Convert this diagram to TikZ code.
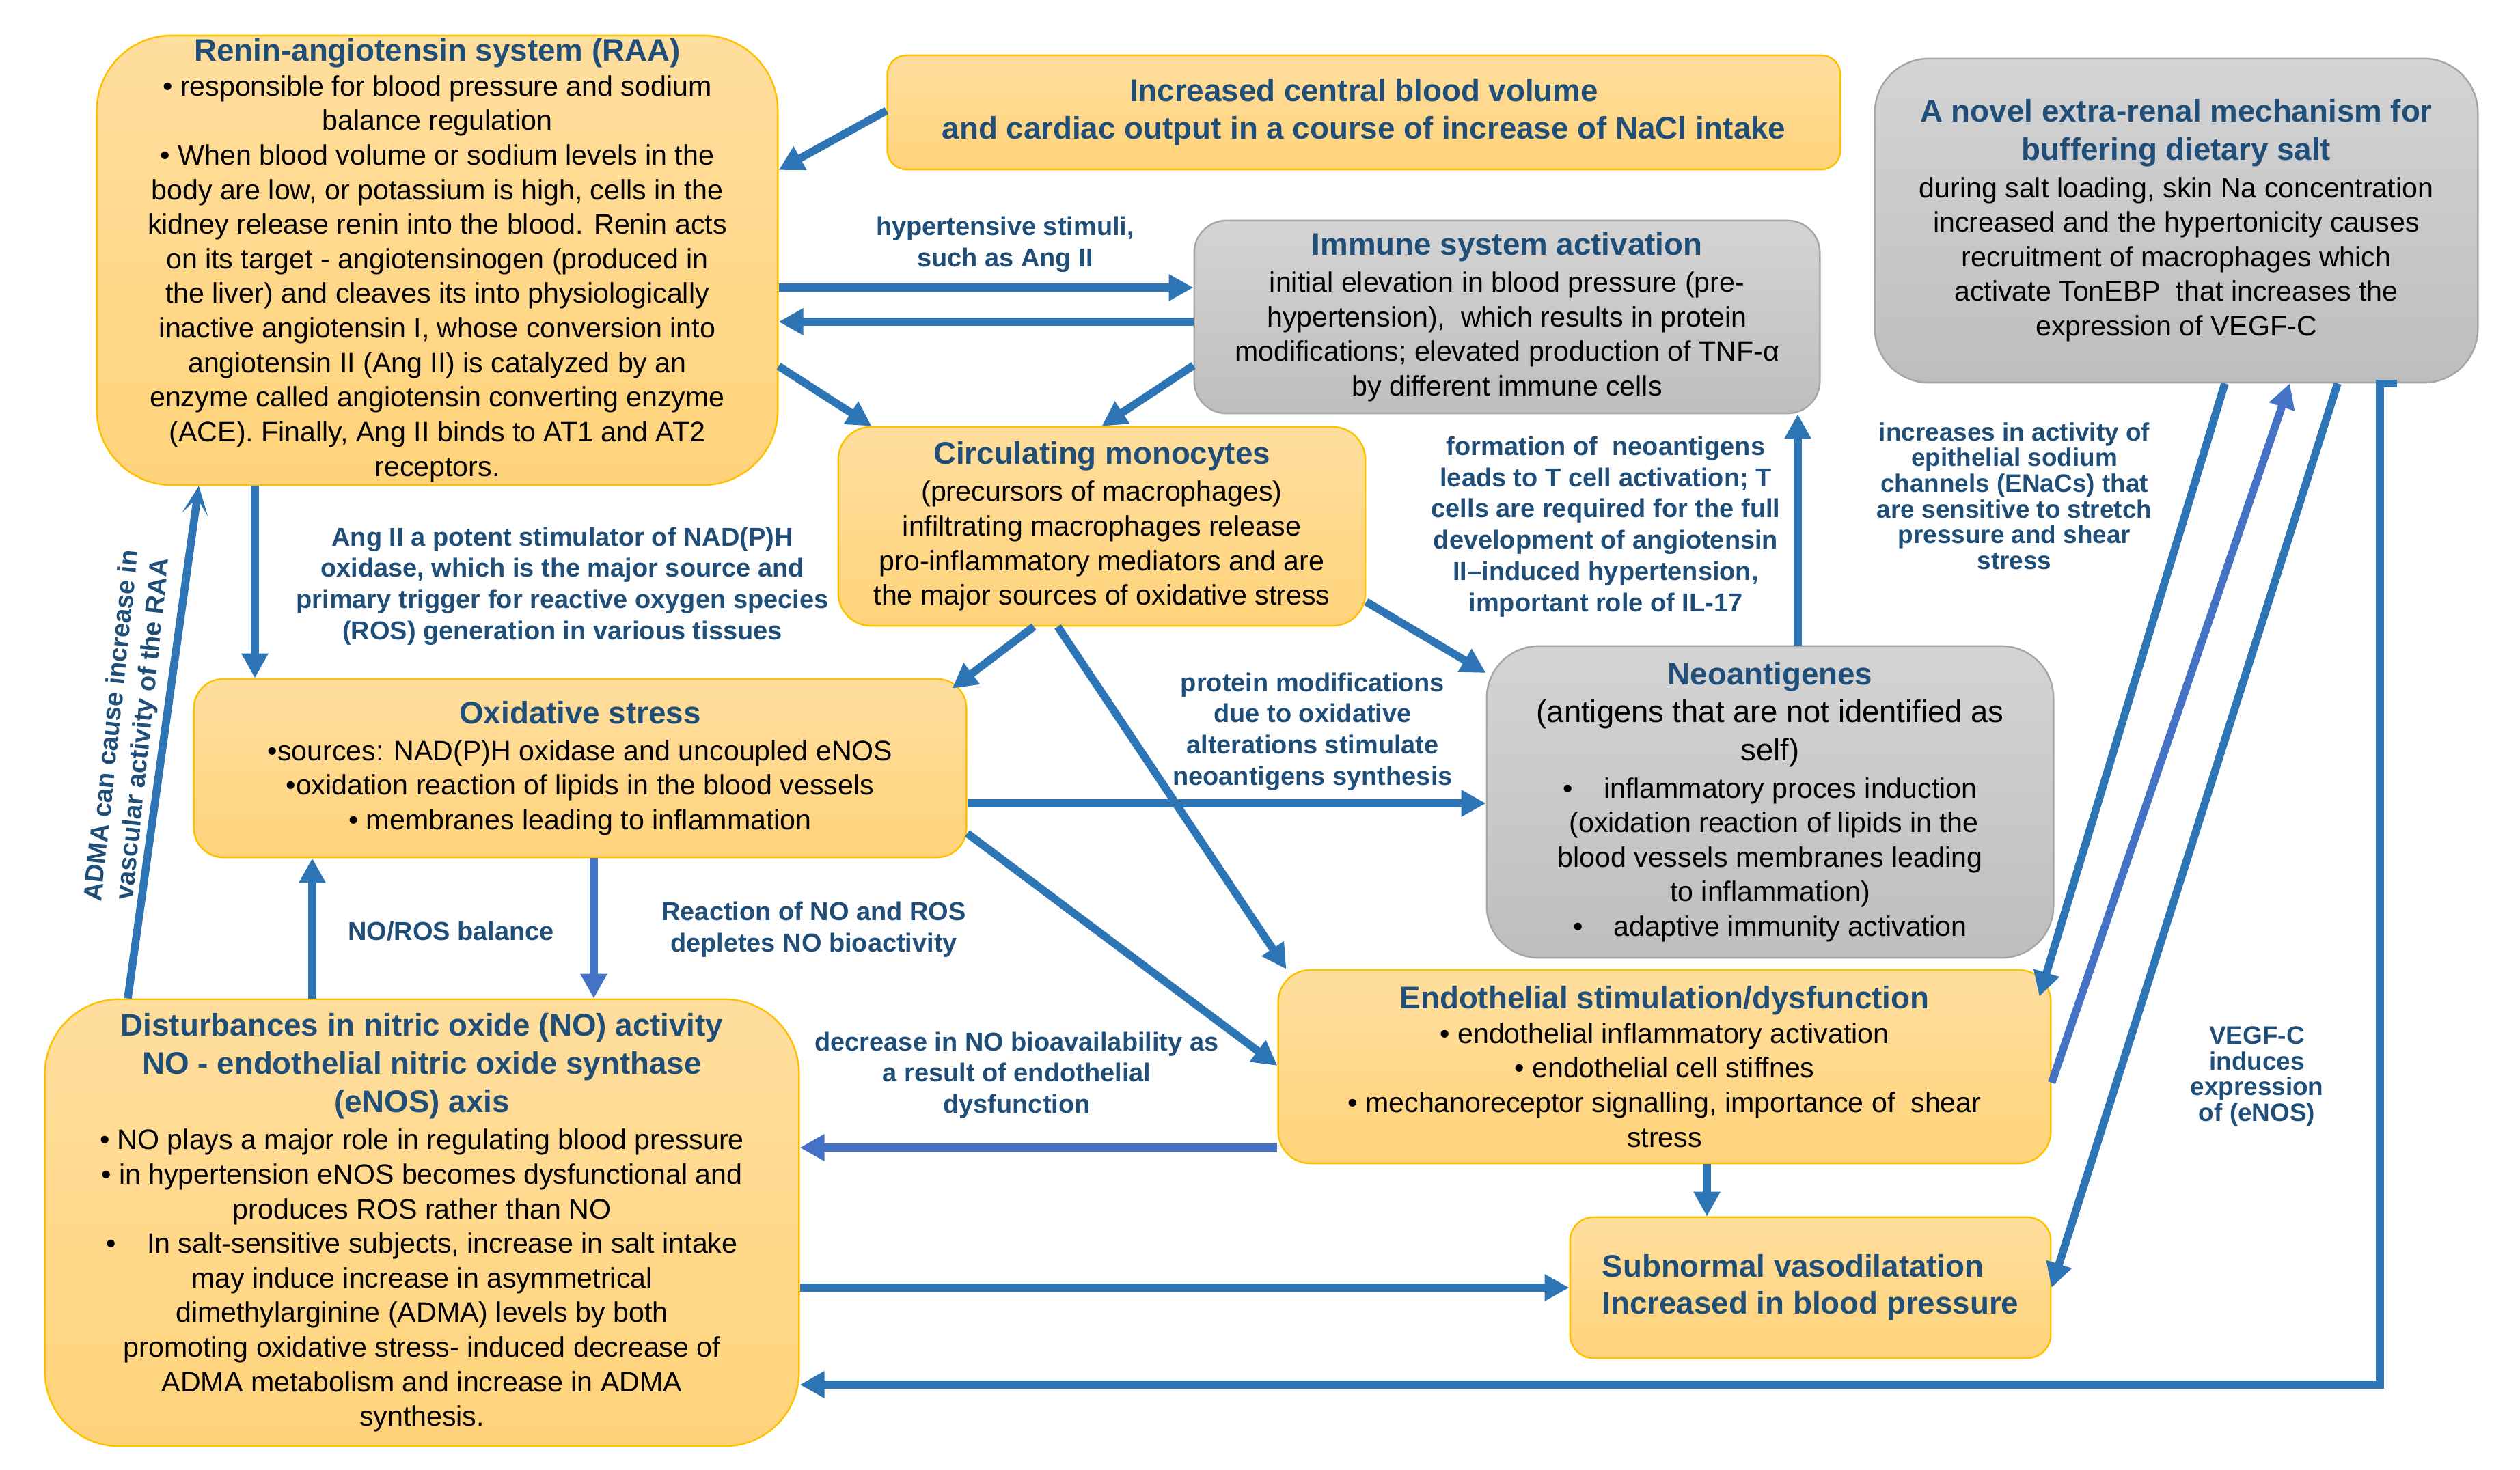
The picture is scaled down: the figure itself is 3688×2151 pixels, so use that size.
\documentclass[tikz,border=0pt]{standalone}
\usepackage{fontspec}
\setmainfont{Liberation Sans}
\usepackage{xcolor}
\usepackage{tikz}
\usetikzlibrary{arrows.meta}

\definecolor{orangetop}{HTML}{FFDE9E}
\definecolor{orangebottom}{HTML}{FFD37A}
\definecolor{orangeedge}{HTML}{FFC000}
\definecolor{graytop}{HTML}{D4D4D4}
\definecolor{graybottom}{HTML}{BEBEBE}
\definecolor{grayedge}{HTML}{A6A6A6}
\definecolor{arrowblue}{HTML}{2E75B6}
\definecolor{lightblue}{HTML}{4472C4}
\definecolor{titleblue}{HTML}{1F4E79}

\begin{document}
\begin{tikzpicture}[x=0.01cm,y=-0.01cm,
  box/.style={line width=0.7pt,align=center,inner sep=0pt,font=\fontsize{11.7}{14.4}\selectfont},
  orangebox/.style={box,draw=orangeedge,top color=orangetop,bottom color=orangebottom},
  graybox/.style={box,draw=grayedge,top color=graytop,bottom color=graybottom},
  lbl/.style={text=titleblue,font=\bfseries\fontsize{10.8}{13}\selectfont,align=center,inner sep=0pt},
  tightlbl/.style={lbl,font=\bfseries\fontsize{10.5}{10.7}\selectfont},
  flow/.style={draw=arrowblue,line width=1.15mm,-{Triangle[length=3.6mm,width=3.7mm]}},
  lightflow/.style={flow,draw=lightblue}]
\newcommand{\boxtitle}[1]{{\color{titleblue}\bfseries\fontsize{13}{15.5}\selectfont #1}}
\useasboundingbox (0,0) rectangle (3688,2151);

  \node[orangebox,minimum width=9.96cm,minimum height=6.58cm,rounded corners=1.1cm] (raa) at (640,381) {\boxtitle{Renin-angiotensin system (RAA)}\\
    • responsible for blood pressure and sodium\\balance regulation\\
    • When blood volume or sodium levels in the\\body are low, or potassium is high, cells in the\\
    kidney release renin into the blood. Renin acts\\on its target - angiotensinogen (produced in\\
    the liver) and cleaves its into physiologically\\inactive angiotensin I, whose conversion into\\
    angiotensin II (Ang II) is catalyzed by an\\enzyme called angiotensin converting enzyme\\
    (ACE). Finally, Ang II binds to AT1 and AT2\\receptors.};
  \node[orangebox,minimum width=13.94cm,minimum height=1.67cm,rounded corners=0.28cm,text=titleblue,font=\bfseries\fontsize{13}{15.6}\selectfont] (volume) at (1996,164.5) {Increased central blood volume\\and cardiac output in a course of increase of NaCl intake};
  \node[graybox,minimum width=9.15cm,minimum height=2.82cm,rounded corners=0.47cm] (immune) at (2205.5,464) {\boxtitle{Immune system activation}\\[1pt]
    initial elevation in blood pressure (pre-\\hypertension), \ which results in protein\\
    modifications; elevated production of TNF-α\\by different immune cells};
  \node[graybox,minimum width=8.82cm,minimum height=4.74cm,rounded corners=0.79cm] (buffer) at (3185,323) {\boxtitle{A novel extra-renal mechanism for}\\[1.5pt]\boxtitle{buffering dietary salt}\\[1pt]
    during salt loading, skin Na concentration\\increased and the hypertonicity causes\\
    recruitment of macrophages which\\activate TonEBP \ that increases the\\expression of VEGF-C};
  \node[orangebox,minimum width=7.71cm,minimum height=2.91cm,rounded corners=0.48cm] (monocytes) at (1612.5,770.5) {\boxtitle{Circulating monocytes}\\[1pt]
    (precursors of macrophages)\\infiltrating macrophages release\\
    pro-inflammatory mediators and are\\the major sources of oxidative stress};
  \node[orangebox,minimum width=11.3cm,minimum height=2.61cm,rounded corners=0.43cm] (oxstress) at (849,1124.5) {\boxtitle{Oxidative stress}\\[1pt]
    •sources: NAD(P)H oxidase and uncoupled eNOS\\•oxidation reaction of lipids in the blood vessels\\
    • membranes leading to inflammation};
  \node[graybox,minimum width=8.29cm,minimum height=4.56cm,rounded corners=0.76cm] (neoag) at (2590.5,1174) {\boxtitle{Neoantigenes}\\[1.5pt]
    {\fontsize{12.9}{15}\selectfont (antigens that are not identified as}\\[1.5pt]{\fontsize{12.9}{15}\selectfont self)}\\[1pt]
    •\hspace{1.1em}inflammatory proces induction\\\ (oxidation reaction of lipids in the\\
    blood vessels membranes leading\\to inflammation)\\
    •\hspace{1.1em}adaptive immunity activation};
  \node[orangebox,minimum width=11.3cm,minimum height=2.83cm,rounded corners=0.47cm] (endo) at (2436,1561.5) {\boxtitle{Endothelial stimulation/dysfunction}\\
    • endothelial inflammatory activation\\• endothelial cell stiffnes\\
    • mechanoreceptor signalling, importance of \ shear\\stress};
  \node[orangebox,minimum width=7.03cm,minimum height=2.06cm,rounded corners=0.34cm,align=left,text=titleblue,font=\bfseries\fontsize{13}{15.3}\selectfont] (vasodil) at (2649.5,1885) {Subnormal vasodilatation\\Increased in blood pressure};
  \node[orangebox,minimum width=11.03cm,minimum height=6.54cm,rounded corners=1.09cm] (nitric) at (617.5,1790) {\boxtitle{Disturbances in nitric oxide (NO) activity}\\[1.5pt]
    \boxtitle{NO - endothelial nitric oxide synthase}\\[1.5pt]\boxtitle{(eNOS) axis}\\[1pt]
    • NO plays a major role in regulating blood pressure\\• in hypertension eNOS becomes dysfunctional and\\
    produces ROS rather than NO\\•\hspace{1.1em}In salt-sensitive subjects, increase in salt intake\\
    may induce increase in asymmetrical\\dimethylarginine (ADMA) levels by both\\
    promoting oxidative stress- induced decrease of\\ADMA metabolism and increase in ADMA\\synthesis.};

  \node[lbl] (stimlbl) at (1471,358) {hypertensive stimuli,\\such as Ang II};
  \node[lbl] (anglbl) at (823,858) {Ang II a potent stimulator of NAD(P)H\\oxidase, which is the major source and\\primary trigger for reactive oxygen species\\(ROS) generation in various tissues};
  \node[lbl] (balancelbl) at (660,1363) {NO/ROS balance};
  \node[lbl] (reactlbl) at (1191,1361) {Reaction of NO and ROS\\depletes NO bioactivity};
  \node[lbl] (protlbl) at (1921,1071) {protein modifications\\due to oxidative\\alterations stimulate\\neoantigens synthesis};
  \node[lbl] (tcelllbl) at (2350,771) {formation of \ neoantigens\\leads to T cell activation; T\\cells are required for the full\\development of angiotensin\\II–induced hypertension,\\important role of IL-17};
  \node[tightlbl] (enaclbl) at (2948,726) {increases in activity of\\epithelial sodium\\channels (ENaCs) that\\are sensitive to stretch\\pressure and shear\\stress};
  \node[lbl] (bioavlbl) at (1488,1574) {decrease in NO bioavailability as\\a result of endothelial\\dysfunction};
  \node[tightlbl] (vegflbl) at (3303,1576) {VEGF-C\\induces\\expression\\of (eNOS)};
  \node[lbl,rotate=84] (admalbl) at (188,1065) {ADMA can cause increase in\\vascular activity of the RAA};

  \draw[flow] (volume.west |- 0,162) -- (raa.east |- 0,249);
  \draw[flow] (raa.east |- 0,421) -- (immune.west |- 0,421);
  \draw[flow] (immune.west |- 0,471) -- (raa.east |- 0,471);
  \draw[flow] (raa.east |- 0,536) -- ([xshift=5mm]monocytes.north west);
  \draw[flow] (immune.west |- 0,535) -- (monocytes.north);
  \draw[flow] (373,0 |- raa.south) -- (373,0 |- oxstress.north);
  \draw[flow,-{Stealth[length=4.2mm,width=3.8mm,inset=2.4mm]}] (nitric.north -| 187,0) -- (raa.south -| 291,0);
  \draw[flow] (monocytes.south -| 1513,0) -- ([xshift=-2.2mm,yshift=-1.5mm]oxstress.north east);
  \draw[flow] (monocytes.east |- 0,881) -- (neoag.west |- 0,985);
  \draw[flow] (monocytes.south -| 1548,0) -- ([xshift=1.3mm]endo.north west);
  \draw[flow] (oxstress.east |- 0,1176) -- (neoag.west |- 0,1176);
  \draw[flow] (oxstress.east |- 0,1220) -- (endo.west |- 0,1560);
  \draw[flow] (457,0 |- nitric.north) -- (457,0 |- oxstress.south);
  \draw[lightflow] (869,0 |- oxstress.south) -- (869,0 |- nitric.north);
  \draw[flow] (2631,0 |- neoag.north) -- (2631,0 |- immune.south);
  \draw[lightflow] (endo.west |- 0,1680) -- (nitric.east |- 0,1680);
  \draw[flow] (nitric.east |- vasodil.west) -- (vasodil.west);
  \draw[flow] (2498,0 |- endo.south) -- (2498,0 |- vasodil.north);
  \draw[flow] (buffer.south -| 3256,0) -- ([xshift=-1.8mm,yshift=-4mm]endo.north east);
  \draw[lightflow] (endo.east |- 0,1585) -- (buffer.south -| 3351,0);
  \draw[flow] (buffer.south -| 3421,0) -- (vasodil.east);
  \draw[flow] (buffer.south -| 3508,0) -- (3483,0 |- buffer.south) -- (3483,2027) -- (nitric.east |- 0,2027);
\end{tikzpicture}
\end{document}
